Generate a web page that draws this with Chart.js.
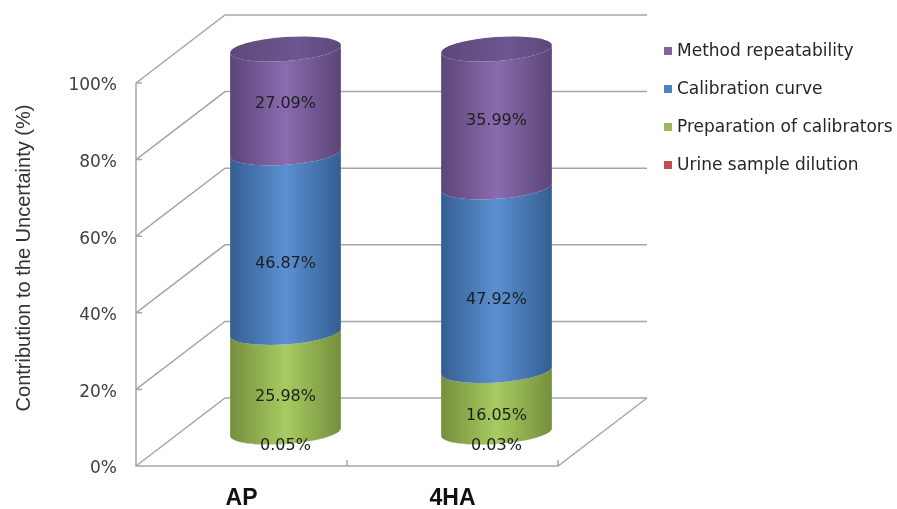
<!DOCTYPE html>
<html lang="en">
<head>
<meta charset="UTF-8">
<title>Contribution to the Uncertainty</title>
<script src="https://cdn.jsdelivr.net/npm/chart.js@4"></script>
<style>
  html, body { margin: 0; padding: 0; background: #fff; }
  #wrap { width: 897px; height: 509px; position: relative; }
</style>
</head>
<body>
<div id="wrap"><canvas id="chart"></canvas></div>
<script>
// data
const categories = ['AP', '4HA'];
const urineDilution = [0.05, 0.03];
const preparation = [25.98, 16.05];
const calibration = [46.87, 47.92];
const repeatability = [27.09, 35.99];
const yTicks = [0, 20, 40, 60, 80, 100];

// 3D look
const DEPTH_X = 89, DEPTH_Y = -68;      // back wall offset
const BAR_DX = 44, BAR_DY = -34;        // cylinders sit mid-depth
const RY = 12, TILT = -0.07;
const GRID = '#a6a6a6';

function makeSet(label, data, color, edge, light, labelDy) {
    return { label, data, backgroundColor: color, edge, light, labelDy };
}

const datasets = [
    makeSet('Urine sample dilution', urineDilution, '#c0504d', '#8a3230', '#d0615e', 14),
    makeSet('Preparation of calibrators', preparation, '#9bbb59', '#748f3c', '#a8cb62', 15),
    makeSet('Calibration curve', calibration, '#4f81bd', '#345e92', '#5b90d1', 21),
    makeSet('Method repeatability', repeatability, '#8064a2', '#5b4577', '#8b6bb0', 3)
];

const walls = {
    id: 'walls',
    beforeDatasetsDraw(chart) {
        const ctx = chart.ctx, y = chart.scales.y, x = chart.scales.x;
        const L = x.left, R = x.right;
        ctx.save();
        ctx.strokeStyle = GRID;
        ctx.lineWidth = 1.5;
        ctx.beginPath();
        yTicks.forEach(v => {
            const py = y.getPixelForValue(v);
            ctx.moveTo(L, py);
            ctx.lineTo(L + DEPTH_X, py + DEPTH_Y);
            ctx.lineTo(R + DEPTH_X, py + DEPTH_Y);
            ctx.moveTo(L, py);
            ctx.lineTo(L + 6, py);
        });
        const y0 = y.getPixelForValue(0);
        ctx.moveTo(L, y.getPixelForValue(100));
        ctx.lineTo(L, y0);
        ctx.lineTo(R, y0);
        ctx.lineTo(R + DEPTH_X, y0 + DEPTH_Y);
        // category separators on the floor edge
        const mid = (x.getPixelForValue(0) + x.getPixelForValue(1)) / 2;
        ctx.moveTo(mid, y0); ctx.lineTo(mid, y0 - 6);
        ctx.moveTo(R, y0); ctx.lineTo(R, y0 - 6);
        ctx.stroke();
        ctx.restore();
    },
    beforeDatasetDraw() {
        return false;
    },
    afterDatasetsDraw(chart) {
        const ctx = chart.ctx;
        ctx.save();
        chart.data.labels.forEach((c, i) => {
            let last = null;
            chart.data.datasets.forEach((ds, di) => {
                const bar = chart.getDatasetMeta(di).data[i];
                const cx = bar.x + BAR_DX, rx = bar.width / 2;
                const yT = bar.y + BAR_DY, yB = bar.base + BAR_DY;
                const g = ctx.createLinearGradient(cx - rx, 0, cx + rx, 0);
                g.addColorStop(0, ds.edge);
                g.addColorStop(0.5, ds.light);
                g.addColorStop(1, ds.edge);
                ctx.beginPath();
                ctx.ellipse(cx, yB, rx, RY, TILT, Math.PI, 0, true);
                ctx.ellipse(cx, yT, rx, RY, TILT, 0, Math.PI, false);
                ctx.closePath();
                ctx.fillStyle = g;
                ctx.fill();
                last = { cx, rx, yT, ds };
            });
            // top cap
            const t = last;
            const g = ctx.createLinearGradient(t.cx - t.rx, 0, t.cx + t.rx, 0);
            g.addColorStop(0, '#5d4879');
            g.addColorStop(0.6, '#6e5690');
            g.addColorStop(1, '#5d4879');
            ctx.beginPath();
            ctx.ellipse(t.cx, t.yT, t.rx, RY, TILT, 0, Math.PI * 2);
            ctx.fillStyle = g;
            ctx.fill();
        });
        // value labels
        ctx.font = '16px "DejaVu Sans"';
        ctx.fillStyle = '#1e1e1e';
        ctx.textAlign = 'center';
        ctx.textBaseline = 'middle';
        chart.data.datasets.forEach((ds, di) => {
            chart.getDatasetMeta(di).data.forEach((bar, i) => {
                const cx = bar.x + BAR_DX;
                const cy = (bar.y + bar.base) / 2 + BAR_DY + ds.labelDy;
                ctx.fillText(ds.data[i].toFixed(2) + '%', cx, cy);
            });
        });
        ctx.restore();
    },
    afterDraw(chart) {
        const ctx = chart.ctx;
        ctx.save();
        // legend, top of stack first
        ctx.font = '17px "DejaVu Sans"';
        ctx.textBaseline = 'middle';
        ctx.textAlign = 'left';
        const sets = chart.data.datasets.slice().reverse();
        sets.forEach((ds, k) => {
            const ly = 52 + k * 38;
            ctx.fillStyle = ds.backgroundColor;
            ctx.fillRect(664, ly - 5, 8, 8);
            ctx.fillStyle = '#262626';
            ctx.fillText(ds.label, 677, ly);
        });
        // axis title
        ctx.translate(24, 258);
        ctx.rotate(-Math.PI / 2);
        ctx.textAlign = 'center';
        ctx.font = '20px "Liberation Sans"';
        ctx.fillStyle = '#333333';
        ctx.fillText('Contribution to the Uncertainty (%)', 0, 0);
        ctx.restore();
    }
};

new Chart(document.getElementById('chart'), {
    type: 'bar',
    data: { labels: categories, datasets },
    options: {
        responsive: true,
        maintainAspectRatio: false,
        animation: false,
        events: [],
        layout: { padding: { top: 83, right: 339, left: 0, bottom: 0 } },
        datasets: { bar: { categoryPercentage: 1, barPercentage: 0.526 } },
        plugins: { legend: { display: false }, tooltip: { enabled: false } },
        scales: {
            x: {
                stacked: true,
                grid: { display: false, drawTicks: false },
                border: { display: false },
                ticks: { color: '#111', font: { family: 'Liberation Sans', size: 23, weight: 'bold' }, padding: 19 },
                afterFit: s => { s.height = 43; }
            },
            y: {
                stacked: true,
                min: 0, max: 100,
                grid: { display: false, drawTicks: false },
                border: { display: false },
                ticks: {
                    stepSize: 20,
                    padding: 19,
                    labelOffset: 3,
                    color: '#404040',
                    font: { family: 'DejaVu Sans', size: 17 },
                    callback: v => v + '%'
                },
                afterFit: s => { s.width = 136; }
            }
        }
    },
    plugins: [walls]
});
</script>
</body>
</html>
